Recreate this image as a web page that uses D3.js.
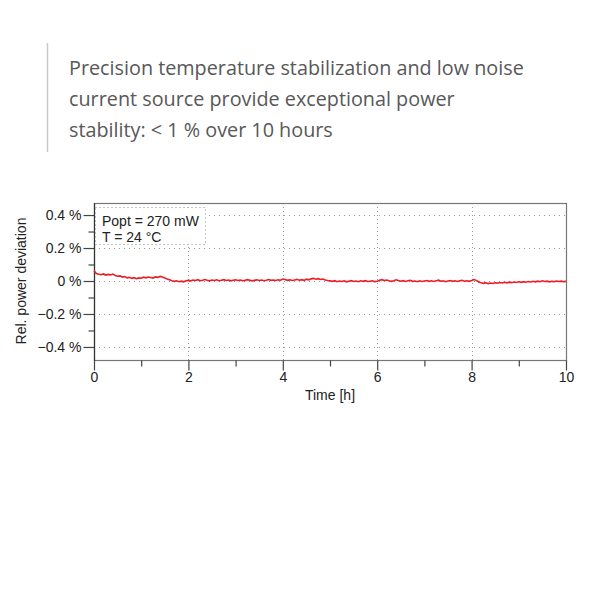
<!DOCTYPE html>
<meta charset="utf-8">
<html>
<body style="margin:0;background:#fff">
<div id="chartContainer"></div>
<script src="https://cdn.jsdelivr.net/npm/d3@7"></script>
<script type="text/javascript">

  // power deviation in %, one reading every 0.05 h from 0 to 10 h
  var timeStep = 0.05;
  var deviation = [
    0.062, 0.045, 0.041, 0.038, 0.043, 0.036, 0.040, 0.037, 0.042, 0.034,
    0.029, 0.031, 0.024, 0.027, 0.019, 0.022, 0.016, 0.020, 0.014, 0.019,
    0.017, 0.023, 0.019, 0.024, 0.021, 0.018, 0.025, 0.022, 0.028, 0.024,
    0.019, 0.012, 0.007, 0.001, -0.002, 0.001, -0.004, -0.001, -0.005, 0.002,
    0.004,
    0.001, 0.006, 0.003, 0.008, 0.002, 0.005, 0.009, 0.004, 0.001, 0.006,
    0.003, 0.007, 0.002, 0.005, 0.008, 0.003, 0.006, 0.001, 0.005, 0.007,
    0.003, 0.006, 0.002, 0.004, 0.008, 0.005, 0.001, 0.004, 0.007, 0.003,
    0.006, 0.002, 0.005, 0.009, 0.004, 0.006, 0.003, 0.007, 0.005, 0.012,
    0.009, 0.004, 0.007, 0.003, 0.006, 0.010, 0.005, 0.008, 0.004, 0.011,
    0.007, 0.013, 0.016, 0.011, 0.014, 0.009, 0.012, 0.006, 0.003, 0.001,
    -0.002, 0.002, -0.004, 0.000, -0.003, 0.001, -0.005, -0.001, 0.002, -0.003,
    0.000, -0.004, 0.001, -0.002, 0.002, -0.003, -0.001, 0.001, -0.004, -0.002,
    0.004, 0.008, 0.003, 0.006, 0.001, -0.002, 0.002, 0.007, 0.003, -0.001,
    0.002, -0.003, 0.001, 0.004, -0.002, 0.000, -0.004, 0.001, -0.003, 0.000,
    0.003, -0.002, 0.001, -0.003, 0.002, 0.005, -0.001, 0.001, -0.004, 0.000,
    0.003, -0.002, 0.001, -0.003, 0.002, 0.004, -0.001, 0.001, -0.002, 0.003,
    0.009, 0.004, -0.006, -0.011, -0.014, -0.010, -0.016, -0.012, -0.015, -0.011,
    -0.013, -0.009, -0.012, -0.008, -0.011, -0.007, -0.010, -0.006, -0.009, -0.005,
    -0.008, -0.004, -0.007, -0.003, -0.006, -0.002, -0.005, -0.001, -0.004, 0.001,
    -0.003, -0.001, -0.005, -0.002, -0.004, 0.000, -0.003, -0.001, -0.004, -0.002
  ];
  var xTicks = [0, 2, 4, 6, 8, 10];
  var xMinorTicks = [1, 3, 5, 7, 9];
  var yTicks = [0.4, 0.2, 0, -0.2, -0.4];
  var yMinorTicks = [0.3, 0.1, -0.1, -0.3];
  var titleLines = ["Precision temperature stabilization and low noise",
                    "current source provide exceptional power",
                    "stability: < 1 % over 10 hours"];
  var noteLines = ["Popt = 270 mW", "T = 24 \u00B0C"];

  var svg = d3.select("#chartContainer").append("svg")
    .attr("width", 600)
    .attr("height", 600);

  // headline with grey bar
  svg.append("line")
    .attr("x1", 47.5).attr("x2", 47.5)
    .attr("y1", 43).attr("y2", 152)
    .style("stroke", "#c8c8c8")
    .style("stroke-width", 1.5);

  svg.selectAll("title_text")
    .data(titleLines)
    .enter()
    .append("text")
    .attr("x", 69)
    .attr("y", function (d, i) { return 75 + i * 31; })
    .style("font-family", "'Open Sans', sans-serif")
    .style("font-size", "19.8px")
    .style("fill", "#585858")
    .text(function (d) { return d; });

  var plotLeft = 94, plotRight = 566, plotTop = 203, plotBottom = 360;
  var x = d3.scaleLinear().domain([0, 10]).range([plotLeft, plotRight]);
  var y = d3.scaleLinear().domain([-0.479, 0.473]).range([plotBottom, plotTop]);
  var font = "'Liberation Sans', Arial, sans-serif";

  // dotted grid
  svg.selectAll("hgrid")
    .data(yTicks)
    .enter()
    .append("line")
    .attr("x1", plotLeft).attr("x2", plotRight)
    .attr("y1", function (d) { return Math.round(y(d)) + 0.5; })
    .attr("y2", function (d) { return Math.round(y(d)) + 0.5; })
    .style("stroke", "#999")
    .style("stroke-dasharray", "1,4");

  svg.selectAll("vgrid")
    .data([2, 4, 6, 8])
    .enter()
    .append("line")
    .attr("x1", function (d) { return Math.round(x(d)) + 0.5; })
    .attr("x2", function (d) { return Math.round(x(d)) + 0.5; })
    .attr("y1", plotTop).attr("y2", plotBottom)
    .style("stroke", "#999")
    .style("stroke-dasharray", "1,3");

  // frame
  svg.append("rect")
    .attr("x", plotLeft + 0.5).attr("y", plotTop + 0.5)
    .attr("width", plotRight - plotLeft).attr("height", plotBottom - plotTop)
    .style("fill", "none")
    .style("stroke", "#777")
    .style("stroke-width", 1.2);

  // axes
  var yAxis = d3.axisLeft(y).tickValues(yTicks).tickSize(11).tickPadding(2)
    .tickFormat(function (d) { return d3.format(".1f")(d).replace(".0", "").replace("-", "\u2212") + " %"; });
  var gy = svg.append("g").attr("transform", "translate(" + (plotLeft + 0.5) + ",0)").call(yAxis);
  svg.append("g").attr("transform", "translate(" + (plotLeft + 0.5) + ",0)")
    .call(d3.axisLeft(y).tickValues(yMinorTicks).tickSize(6).tickFormat(""));

  var xAxis = d3.axisBottom(x).tickValues(xTicks).tickSize(10).tickPadding(2)
    .tickFormat(d3.format("d"));
  var gx = svg.append("g").attr("transform", "translate(0," + (plotBottom + 0.5) + ")").call(xAxis);
  svg.append("g").attr("transform", "translate(0," + (plotBottom + 0.5) + ")")
    .call(d3.axisBottom(x).tickValues(xMinorTicks).tickSize(6).tickFormat(""));

  svg.selectAll(".domain").remove();
  svg.selectAll(".tick line").style("stroke", "#444").style("stroke-width", 1.2);
  svg.selectAll(".tick text")
    .style("font-family", font)
    .style("font-size", "14px")
    .style("fill", "#222");
  svg.append("line")
    .attr("x1", plotLeft + 0.5).attr("x2", plotLeft + 0.5)
    .attr("y1", plotTop).attr("y2", plotBottom + 1)
    .style("stroke", "#333").style("stroke-width", 1.2);

  // the measured trace
  var line = d3.line()
    .x(function (d, i) { return x(i * timeStep); })
    .y(function (d) { return y(d); });
  svg.append("path")
    .datum(deviation)
    .attr("d", line)
    .style("fill", "none")
    .style("stroke", "#ee1c25")
    .style("stroke-width", 1.6);

  // conditions box
  svg.append("rect")
    .attr("x", 95.5).attr("y", 207.5)
    .attr("width", 110).attr("height", 37)
    .style("fill", "#fff")
    .style("stroke", "#888")
    .style("stroke-dasharray", "1,3");

  svg.selectAll("note_text")
    .data(noteLines)
    .enter()
    .append("text")
    .attr("x", 102)
    .attr("y", function (d, i) { return 226 + i * 16; })
    .style("font-family", font)
    .style("font-size", "14px")
    .style("fill", "#222")
    .text(function (d) { return d; });

  // axis titles
  svg.append("text")
    .attr("x", 330).attr("y", 400)
    .attr("text-anchor", "middle")
    .style("font-family", font)
    .style("font-size", "14px")
    .style("fill", "#222")
    .text("Time [h]");

  svg.append("text")
    .attr("transform", "translate(26,281) rotate(-90)")
    .attr("text-anchor", "middle")
    .style("font-family", font)
    .style("font-size", "14px")
    .style("fill", "#222")
    .text("Rel. power deviation");
</script>
</body>
</html>
